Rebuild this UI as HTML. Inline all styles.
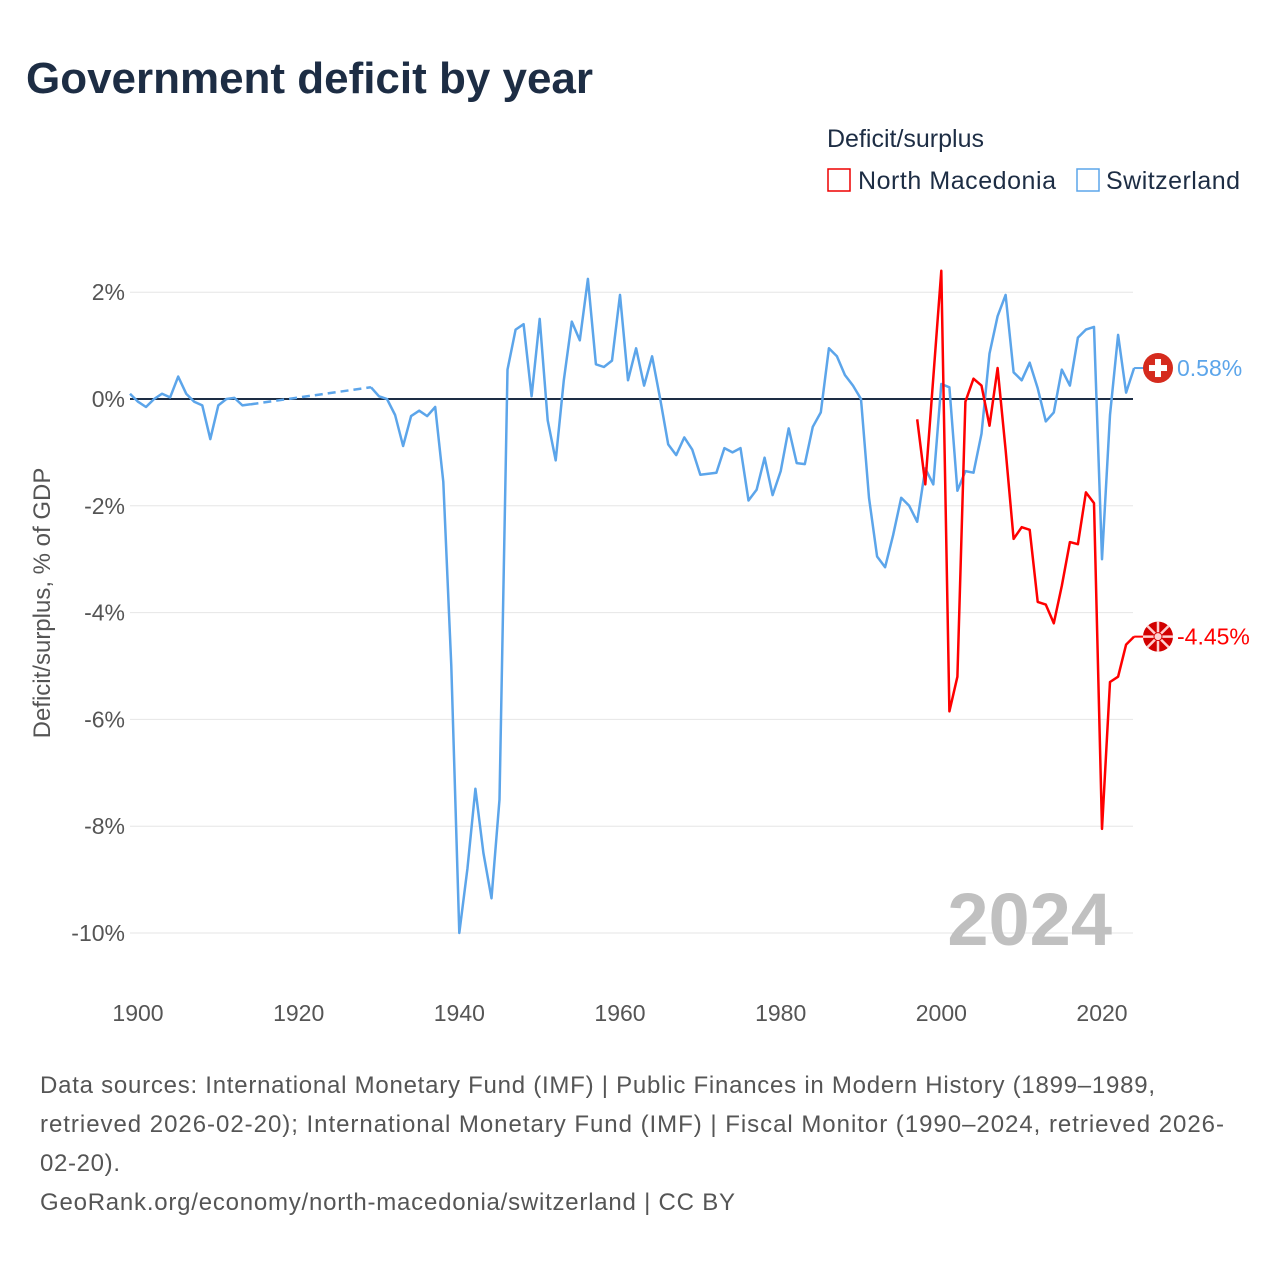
<!DOCTYPE html>
<html><head><meta charset="utf-8"><style>
body{margin:0;background:#fff;font-family:"Liberation Sans",sans-serif;}
#wrap{position:relative;width:1280px;height:1280px;overflow:hidden}
</style></head><body>
<div id="wrap">
<svg id="svg" width="1280" height="1280" xmlns="http://www.w3.org/2000/svg">
<text x="26" y="93" font-size="44" font-weight="bold" fill="#1d2d44" textLength="567">Government deficit by year</text>
<text x="827" y="147" font-size="25" fill="#1d2d44">Deficit/surplus</text>
<g><rect x="828" y="169" width="22" height="22" fill="none" stroke="#e00" stroke-width="1.5"/><text x="858" y="189" font-size="25" fill="#1d2d44" textLength="198">North Macedonia</text></g>
<g><rect x="1077" y="169" width="22" height="22" fill="none" stroke="#5ca5ea" stroke-width="1.5"/><text x="1106" y="189" font-size="25" fill="#1d2d44" textLength="134">Switzerland</text></g>
<g id="grid"></g>
<text x="1112" y="945" font-size="74" font-weight="bold" fill="#c0c0c0" text-anchor="end">2024</text>
<g id="marks"></g>
<text transform="translate(50,603) rotate(-90)" font-size="24" fill="#555" text-anchor="middle">Deficit/surplus, % of GDP</text>
<g font-size="24" fill="#555">
<text x="40" y="1093" textLength="1115">Data sources: International Monetary Fund (IMF) | Public Finances in Modern History (1899–1989,</text>
<text x="40" y="1132" textLength="1184">retrieved 2026-02-20); International Monetary Fund (IMF) | Fiscal Monitor (1990–2024, retrieved 2026-</text>
<text x="40" y="1171" textLength="80">02-20).</text>
<text x="40" y="1210" textLength="695">GeoRank.org/economy/north-macedonia/switzerland | CC BY</text>
</g>
</svg>
</div>
<script>
const yTicks=[2,0,-2,-4,-6,-8,-10];
const yTickLabels=["2%","0%","-2%","-4%","-6%","-8%","-10%"];
const xTicks=[1900,1920,1940,1960,1980,2000,2020];
const chYears1=[1899,1900,1901,1902,1903,1904,1905,1906,1907,1908,1909,1910,1911,1912,1913,1914];
const chVals1=[0.1,-0.05,-0.15,0.0,0.1,0.03,0.42,0.1,-0.05,-0.12,-0.75,-0.12,0.0,0.02,-0.12,-0.1];
const chYears2=[];for(let y=1929;y<=2024;y++)chYears2.push(y);
const chVals2=[0.22,0.05,0.0,-0.3,-0.88,-0.32,-0.22,-0.32,-0.15,-1.55,-5,-10,-8.8,-7.3,-8.5,-9.35,-7.5,0.55,1.3,1.4,0.05,1.5,-0.4,-1.15,0.35,1.45,1.1,2.25,0.65,0.6,0.72,1.95,0.35,0.95,0.25,0.8,0.0,-0.85,-1.05,-0.72,-0.95,-1.42,-1.4,-1.38,-0.92,-1.0,-0.92,-1.9,-1.7,-1.1,-1.8,-1.35,-0.55,-1.2,-1.22,-0.52,-0.25,0.95,0.8,0.45,0.25,0.0,-1.85,-2.95,-3.15,-2.55,-1.85,-2.0,-2.3,-1.3,-1.6,0.28,0.22,-1.72,-1.35,-1.38,-0.65,0.85,1.55,1.95,0.5,0.35,0.68,0.2,-0.42,-0.25,0.55,0.25,1.15,1.3,1.35,-3.0,-0.3,1.2,0.12,0.58];
const mkYears=[];for(let y=1997;y<=2024;y++)mkYears.push(y);
const mkVals=[-0.38,-1.6,0.4,2.4,-5.85,-5.2,-0.05,0.38,0.25,-0.5,0.58,-0.95,-2.62,-2.4,-2.45,-3.8,-3.85,-4.2,-3.5,-2.68,-2.72,-1.75,-1.95,-8.05,-5.3,-5.2,-4.6,-4.45];
const X=y=>138+(y-1900)*(1102-138)/120;
const Y=v=>399-v*53.4;
const NS="http://www.w3.org/2000/svg";
const grid=document.getElementById('grid'),marks=document.getElementById('marks');
function mk(tag,attrs,parent){const e=document.createElementNS(NS,tag);for(const k in attrs)e.setAttribute(k,attrs[k]);parent.appendChild(e);return e;}
yTicks.forEach((t,i)=>{
 const l=mk('line',{x1:130,x2:1133,y1:Y(t),y2:Y(t),stroke:t===0?'#1d2d44':'#e6e6e6','stroke-width':t===0?2:1},grid);
 
 
 const tx=mk('text',{x:125,y:Y(t)+8,'font-size':23,fill:'#555','text-anchor':'end'},grid);
 tx.textContent=yTickLabels[i];
 
 
});
xTicks.forEach(t=>{
 const tx=mk('text',{x:X(t),y:1021,'font-size':23,fill:'#555','text-anchor':'middle'},grid);
 tx.textContent=t;
 
 
});
function pts(ys,vs){return ys.map((y,i)=>X(y).toFixed(1)+','+Y(vs[i]).toFixed(1)).join(' ');}
const p1=mk('polyline',{points:pts(chYears1,chVals1),fill:'none',stroke:'#5ca5ea','stroke-width':2.5,'stroke-linejoin':'round'},marks);


const gap=mk('line',{x1:X(1914),y1:Y(chVals1[chVals1.length-1]),x2:X(1929),y2:Y(chVals2[0]),stroke:'#5ca5ea','stroke-width':2.5,'stroke-dasharray':'8 5'},marks);


const p2=mk('polyline',{points:pts(chYears2,chVals2),fill:'none',stroke:'#5ca5ea','stroke-width':2.5,'stroke-linejoin':'round'},marks);


const p3=mk('polyline',{points:pts(mkYears,mkVals),fill:'none',stroke:'#f00','stroke-width':2.5,'stroke-linejoin':'round'},marks);


function endMark(v,color,txt,flag,name){
 const y=Y(v);
 const c=mk('line',{x1:X(2024),y1:y,x2:1150,y2:y,stroke:color,'stroke-width':2},marks);
 
 
 const g=mk('g',{},marks);
 
 
 mk('circle',{cx:1158,cy:y,r:15,fill:flag==='ch'?'#d52b1e':'#d20000'},g);
 if(flag==='ch'){mk('rect',{x:1155,y:y-9,width:6,height:18,fill:'#fff'},g);mk('rect',{x:1149,y:y-3,width:18,height:6,fill:'#fff'},g);}
 else{for(let a=0;a<8;a++){const r=a*Math.PI/4;mk('line',{x1:1158,y1:y,x2:1158+15*Math.cos(r),y2:y+15*Math.sin(r),stroke:'#ffd0d0','stroke-width':2.5},g);}mk('circle',{cx:1158,cy:y,r:4,fill:'#ffd0d0',stroke:'#d20000','stroke-width':1},g);}
 const t=mk('text',{x:1177,y:y+8,'font-size':23,fill:color},marks);
 t.textContent=txt;
 
 
}
endMark(chVals2[chVals2.length-1],'#5ca5ea',chVals2[chVals2.length-1].toFixed(2)+'%','ch','switzerland');
endMark(mkVals[mkVals.length-1],'#f00',mkVals[mkVals.length-1].toFixed(2)+'%','mk','north-macedonia');
</script>
</body></html>
